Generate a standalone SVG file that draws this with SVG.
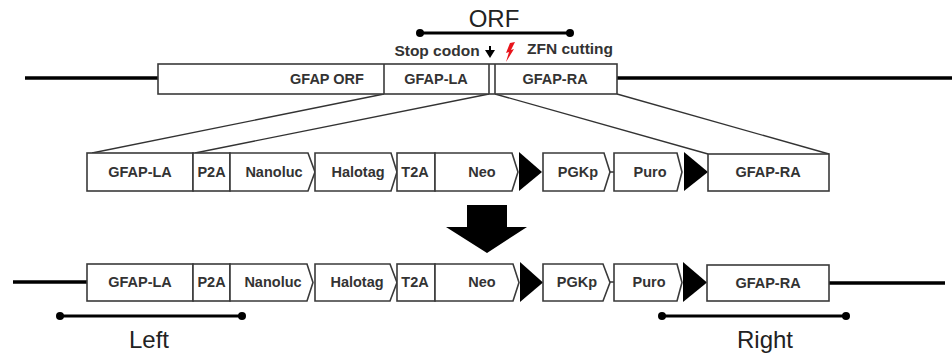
<svg xmlns="http://www.w3.org/2000/svg" width="952" height="354" viewBox="0 0 952 354">
<defs>
<style>
.bx{fill:#fff;stroke:#3a3a3a;stroke-width:1.6}
.lb{font-family:"Liberation Sans",Arial,sans-serif;font-weight:bold;font-size:14.5px;fill:#333;text-anchor:middle}
.big{font-family:"Liberation Sans",Arial,sans-serif;font-size:24px;fill:#222;text-anchor:middle}
.gene{stroke:#000;stroke-width:3.5;fill:none}
.bar{stroke:#000;stroke-width:3;fill:none}
.fan{stroke:#333;stroke-width:1.3;fill:none}
.tri{fill:#000}
</style>
</defs>
<rect width="952" height="354" fill="#fff"/>

<g id="connectors">
<line class="gene" x1="25" y1="78" x2="158" y2="78"/>
<line class="gene" x1="617" y1="78" x2="952" y2="78"/>
<line class="fan" x1="384" y1="94" x2="92" y2="153"/>
<line class="fan" x1="489" y1="94" x2="195" y2="153"/>
<line class="fan" x1="495" y1="94" x2="708" y2="154"/>
<line class="fan" x1="617" y1="94" x2="829" y2="154"/>
<line class="gene" x1="13" y1="282" x2="87" y2="282"/>
<line class="gene" x1="829" y1="283" x2="945" y2="283"/>
<line stroke="#333" stroke-width="1.5" x1="610" y1="172" x2="614" y2="172"/>
<line stroke="#333" stroke-width="1.5" x1="610" y1="282" x2="614" y2="282"/>
</g>

<g id="orf-bar">
<line class="bar" x1="420" y1="33" x2="570" y2="33"/>
<circle cx="420" cy="33" r="4"/>
<circle cx="570" cy="33" r="4"/>
<text class="big" x="494" y="27">ORF</text>
</g>

<g id="stop-codon">
<text class="lb" x="437" y="56" style="font-size:15.5px">Stop codon</text>
<line x1="490" y1="46" x2="490" y2="52" stroke="#000" stroke-width="2"/>
<polygon points="485,50 495,50 490,58" fill="#000"/>
</g>

<g id="zfn">
<polygon points="515,42 511,50 514,49 506,62 509,52 506,53 510,43" fill="#e8141b"/>
<text class="lb" x="570" y="54" style="font-size:15.5px">ZFN cutting</text>
</g>

<g id="genome-top">
<rect class="bx" x="158" y="64" width="459" height="30"/>
<line class="bx" x1="384" y1="64" x2="384" y2="94"/>
<line class="bx" x1="489" y1="64" x2="489" y2="94"/>
<line class="bx" x1="495" y1="64" x2="495" y2="94"/>
<text class="lb" x="327" y="84">GFAP ORF</text>
<text class="lb" x="436" y="84">GFAP-LA</text>
<text class="lb" x="555" y="84">GFAP-RA</text>
</g>

<g id="donor">
<rect class="bx" x="87" y="153" width="106" height="38"/>
<text class="lb" x="140" y="177">GFAP-LA</text>
<rect class="bx" x="193" y="153" width="37" height="38"/>
<text class="lb" x="211.5" y="177">P2A</text>
<polygon class="bx" points="230,153 308,153 315,172 308,191 230,191"/>
<text class="lb" x="274" y="177">Nanoluc</text>
<polygon class="bx" points="315,153 391,153 397,172 391,191 315,191"/>
<text class="lb" x="358" y="177">Halotag</text>
<rect class="bx" x="397" y="153" width="38" height="38"/>
<text class="lb" x="415" y="177">T2A</text>
<polygon class="bx" points="435,153 512,153 518,172 512,191 435,191"/>
<text class="lb" x="482" y="177">Neo</text>
<polygon class="tri" points="519,152 542,172 519,191"/>
<polygon class="bx" points="543,153 604,153 610,172 604,191 543,191"/>
<text class="lb" x="578" y="177">PGKp</text>
<polygon class="bx" points="614,153 677,153 682,172 677,191 614,191"/>
<text class="lb" x="650" y="177">Puro</text>
<polygon class="tri" points="684,152 708,172 684,191"/>
<rect class="bx" x="708" y="154" width="121" height="37"/>
<text class="lb" x="768" y="177">GFAP-RA</text>
</g>

<g id="big-arrow">
<polygon points="467,205 507,205 507,227 527,227 487,253 446,227 467,227" fill="#000"/>
</g>

<g id="result">
<rect class="bx" x="87" y="264" width="106" height="37"/>
<text class="lb" x="140" y="287">GFAP-LA</text>
<rect class="bx" x="193" y="264" width="37" height="37"/>
<text class="lb" x="211.5" y="287">P2A</text>
<polygon class="bx" points="230,264 307,264 313,282.5 307,301 230,301"/>
<text class="lb" x="273" y="287">Nanoluc</text>
<polygon class="bx" points="315,264 390,264 397,282.5 390,301 315,301"/>
<text class="lb" x="357" y="287">Halotag</text>
<rect class="bx" x="397" y="264" width="38" height="37"/>
<text class="lb" x="415" y="287">T2A</text>
<polygon class="bx" points="435,264 513,264 519,282.5 513,301 435,301"/>
<text class="lb" x="482" y="287">Neo</text>
<polygon class="tri" points="520,262 543,282.5 520,302"/>
<polygon class="bx" points="543,264 603,264 610,282.5 603,301 543,301"/>
<text class="lb" x="577" y="287">PGKp</text>
<polygon class="bx" points="614,264 677,264 682,282.5 677,301 614,301"/>
<text class="lb" x="649" y="287">Puro</text>
<polygon class="tri" points="683,262 707,282.5 683,302"/>
<rect class="bx" x="707" y="265" width="122" height="36"/>
<text class="lb" x="768" y="288">GFAP-RA</text>
</g>

<g id="left-arm">
<line class="bar" x1="60" y1="316" x2="242" y2="316"/>
<circle cx="60" cy="316" r="4"/>
<circle cx="242" cy="316" r="4"/>
<text class="big" x="149" y="348">Left</text>
</g>

<g id="right-arm">
<line class="bar" x1="662" y1="316" x2="846" y2="316"/>
<circle cx="662" cy="316" r="4"/>
<circle cx="846" cy="316" r="4"/>
<text class="big" x="765" y="348">Right</text>
</g>
</svg>
